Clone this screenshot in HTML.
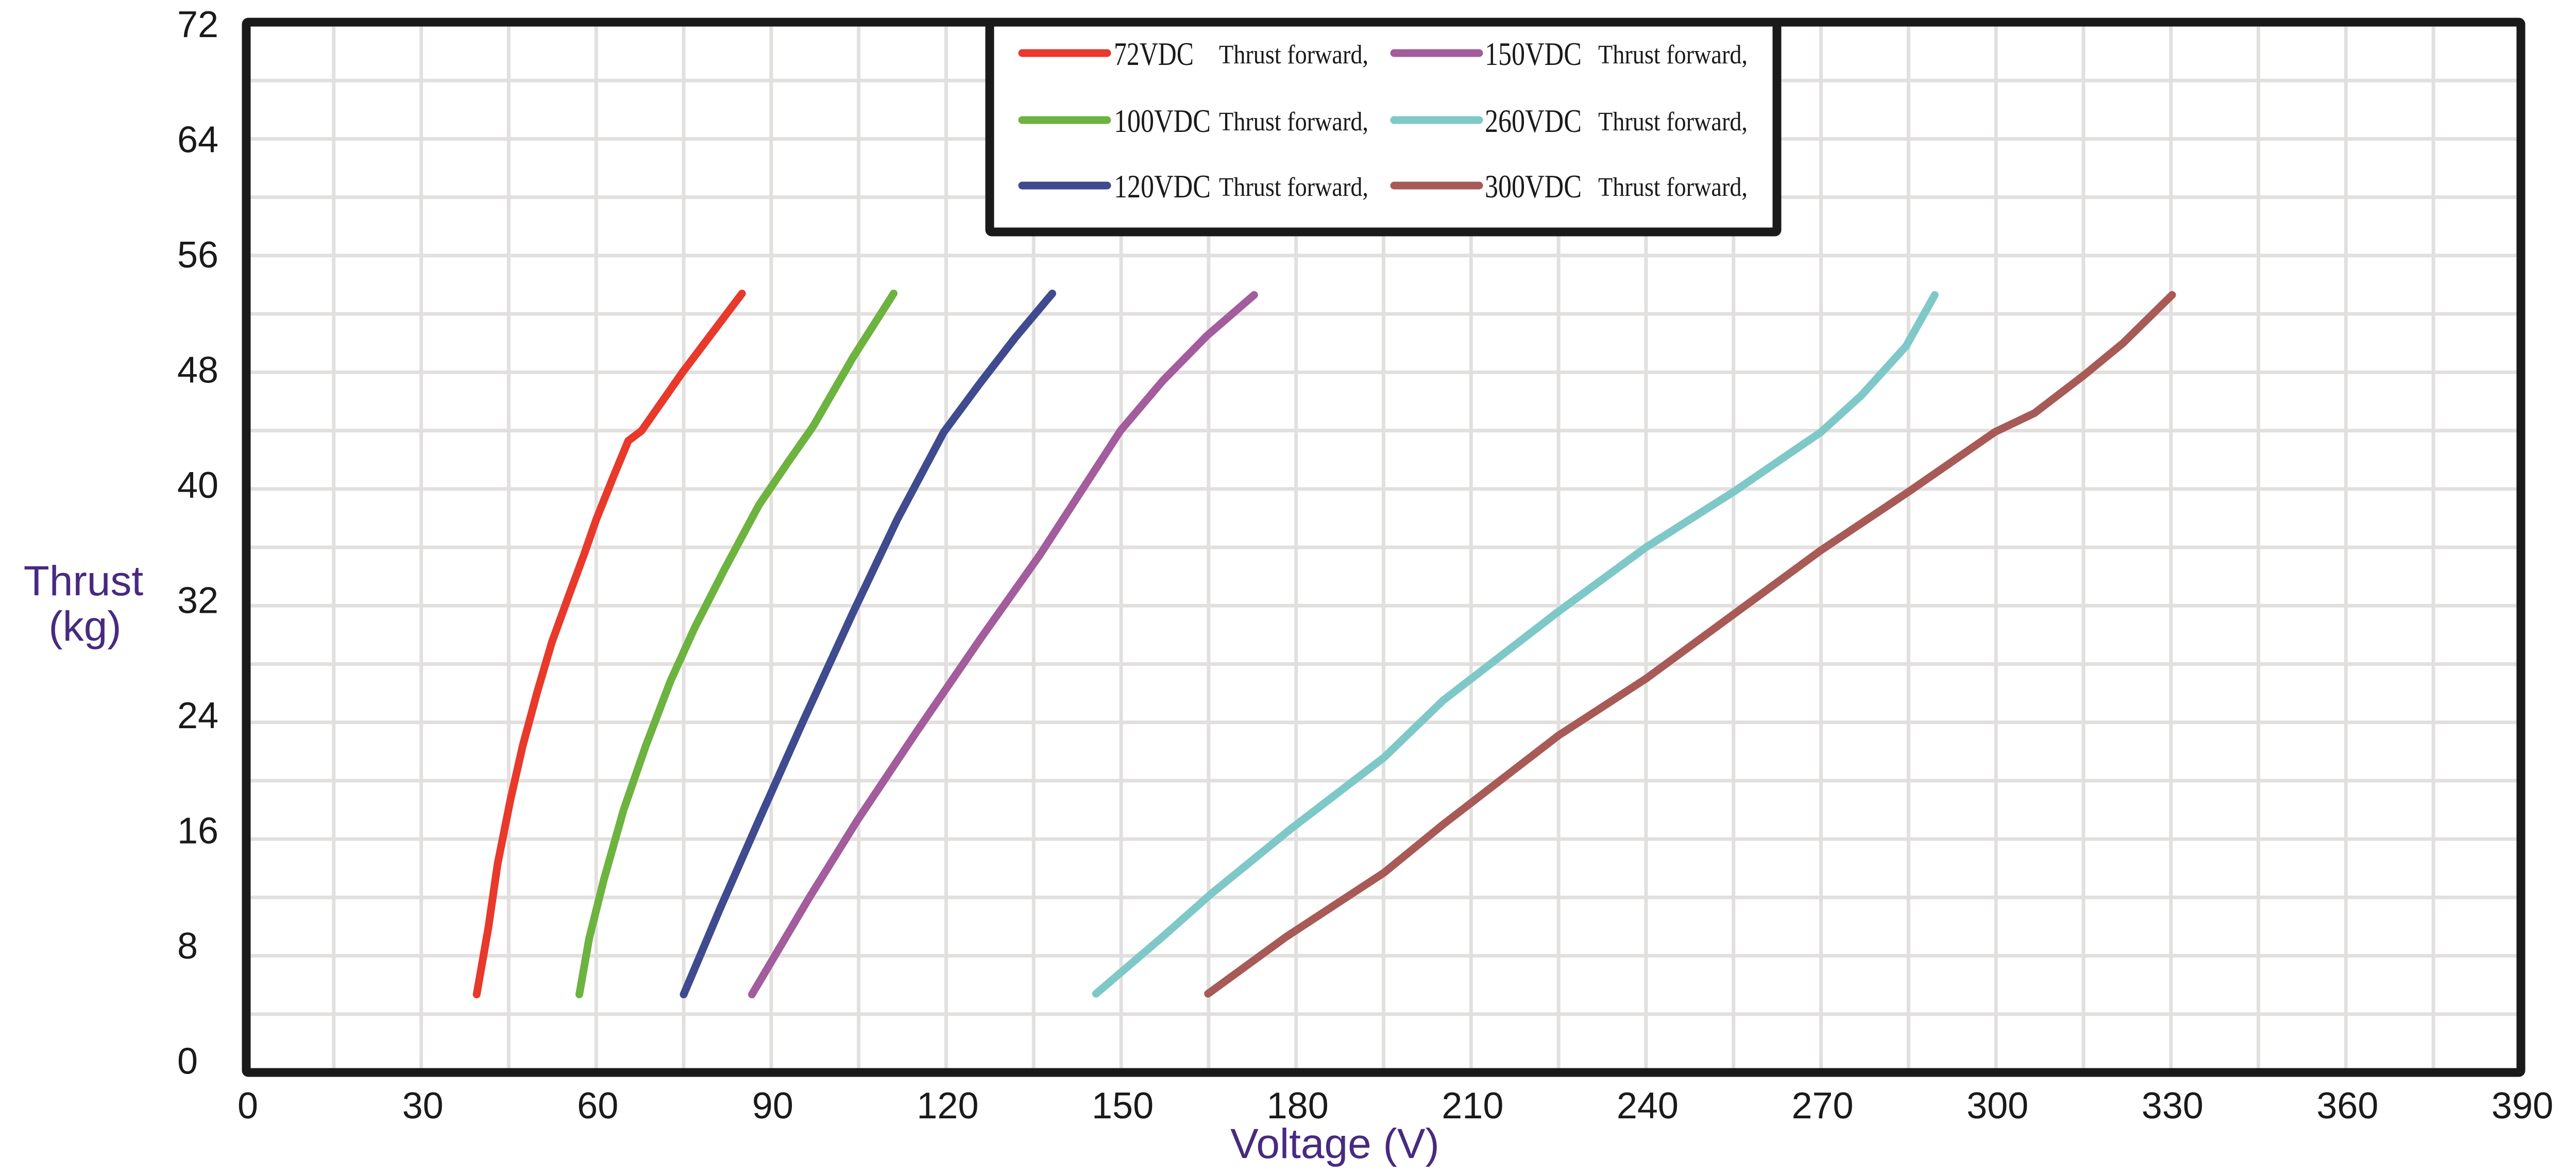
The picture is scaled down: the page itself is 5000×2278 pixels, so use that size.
<!DOCTYPE html>
<html><head><meta charset="utf-8"><style>
html,body{margin:0;padding:0;background:#fff;}
svg{display:block;}
</style></head><body>
<svg id="chart" xmlns="http://www.w3.org/2000/svg" width="5000" height="2278" viewBox="0 0 5000 2278">
<rect x="0" y="0" width="5000" height="2278" fill="#fff"/>
<g id="grid"></g>
<g id="series"></g>
<rect x="478" y="43" width="4415" height="2038" fill="none" stroke="#1a1a1a" stroke-width="17" rx="4"/>
<g id="legend">
<rect x="1921" y="43" width="1528" height="407" fill="#fff" stroke="#1a1a1a" stroke-width="17" rx="4"/>
</g>
<g id="yticks"></g>
<g id="xticks"></g>
<text x="162" y="1155" font-family="Liberation Sans, sans-serif" font-size="82" fill="#472a80" text-anchor="middle">Thrust</text>
<text x="165" y="1243" font-family="Liberation Sans, sans-serif" font-size="82" fill="#472a80" text-anchor="middle">(kg)</text>
<text x="2591" y="2247" font-family="Liberation Sans, sans-serif" font-size="82" fill="#472a80" text-anchor="middle">Voltage (V)</text>
</svg>
<script>
const yTicks = [0, 8, 16, 24, 32, 40, 48, 56, 64, 72];
const xTicks = [0, 30, 60, 90, 120, 150, 180, 210, 240, 270, 300, 330, 360, 390];
const seriesNames = ["72VDC", "100VDC", "120VDC", "150VDC", "260VDC", "300VDC"];
const seriesColors = ["#e8392b", "#6db33f", "#3f4b8e", "#a35c9c", "#7ec8c8", "#a85a56"];
const v72 = [39.5,41.5,43.1,45.3,47.4,49.9,52.4,55.4,57.9,60,63,65.5,67.8,74.8,85];
const t72 = [5.35,9.9,14.3,18.7,22.4,26.1,29.5,32.8,35.5,37.9,40.9,43.3,44,48,53.4];
const v100 = [57.1,58.8,61.3,64.7,68.5,72.7,76.9,82,87.9,93,97.2,104,111];
const t100 = [5.35,9.2,13.2,18,22.4,26.8,30.5,34.5,38.9,41.9,44.3,49,53.4];
const v120 = [75,81.2,87.9,95.5,104,111.6,119.6,125.9,131.9,138.2];
const t120 = [5.35,11.2,17.3,24.1,31.5,37.9,43.9,47.3,50.4,53.4];
const v150 = [86.7,96.4,104.8,115,126,136.1,149.9,157.1,164.7,172.8];
const t150 = [5.35,11.9,17.3,23.4,29.8,35.5,44,47.4,50.5,53.3];
const v260 = [145.7,157.1,165.6,179.1,195.1,205.2,225,240,255,270,276.9,284.6,289.5];
const t260 = [5.4,9.3,12.3,16.7,21.6,25.5,31.6,36,39.8,43.9,46.4,49.8,53.3];
const v300 = [164.9,178.3,195.1,205.2,225,240,255,270,285,299.8,306.6,315.1,321.8,330.2];
const t300 = [5.4,9.3,13.7,17,23.1,27,31.4,35.8,39.8,43.9,45.2,47.8,50,53.3];
const seriesV = [v72, v100, v120, v150, v260, v300];
const seriesT = [t72, t100, t120, t150, t260, t300];

const NS = "http://www.w3.org/2000/svg";
const X0 = 478, X1 = 4893, Y0 = 2081, Y1 = 43, XMAX = 390, YMAX = 72;
function xs(v){ return X0 + (v / XMAX) * (X1 - X0); }
function ys(v){ return Y0 - (v / YMAX) * (Y0 - Y1); }
function mk(tag, attrs){ const e = document.createElementNS(NS, tag); for (const k in attrs) e.setAttribute(k, attrs[k]); return e; }

const grid = document.getElementById("grid");
for (let v = 15; v < XMAX; v += 15) {
  const l = mk("line", {x1: xs(v), x2: xs(v), y1: Y1, y2: Y0, stroke: "#e2e0df", "stroke-width": 7});
  
  
  grid.appendChild(l);
}
for (let v = 4; v < YMAX; v += 4) {
  const l = mk("line", {x1: X0, x2: X1, y1: ys(v), y2: ys(v), stroke: "#e2e0df", "stroke-width": 7});
  
  
  grid.appendChild(l);
}

const yt = document.getElementById("yticks");
yTicks.forEach(v => {
  const t = mk("text", {x: 344, y: 72 + (YMAX - v) * 27.94, "font-family": "Liberation Sans, sans-serif", "font-size": 72, fill: "#1a1a1a"});
  
  
  t.textContent = String(v);
  yt.appendChild(t);
});
const xt = document.getElementById("xticks");
xTicks.forEach(v => {
  const t = mk("text", {x: xs(v) + 3, y: 2170, "font-family": "Liberation Sans, sans-serif", "font-size": 72, fill: "#1a1a1a", "text-anchor": "middle"});
  
  
  t.textContent = String(v);
  xt.appendChild(t);
});

const sg = document.getElementById("series");
seriesV.forEach((vs, i) => {
  const pts = vs.map((v, j) => xs(v).toFixed(1) + "," + ys(seriesT[i][j]).toFixed(1)).join(" ");
  const p = mk("polyline", {points: pts, fill: "none", stroke: seriesColors[i], "stroke-width": 15, "stroke-linejoin": "round", "stroke-linecap": "round"});
  
  
  sg.appendChild(p);
});

const lg = document.getElementById("legend");
const rowY = [103, 233, 360];
const colLine = [1984, 2706];
const colText = [2162, 2882];
const colThrust = [2366, 3102];
seriesNames.forEach((n, i) => {
  const col = i < 3 ? 0 : 1, row = i % 3;
  const g = mk("g", {});
  
  
  const l = mk("line", {x1: colLine[col], x2: colLine[col] + 165, y1: rowY[row], y2: rowY[row], stroke: seriesColors[i], "stroke-width": 15, "stroke-linecap": "round"});
  
  
  g.appendChild(l);
  const t1 = mk("text", {x: colText[col], y: rowY[row] + 23, "font-family": "Liberation Serif, serif", "font-size": 64, fill: "#1a1a1a", textLength: n.length === 5 ? 155 : 188, lengthAdjust: "spacingAndGlyphs"});
  
  
  t1.textContent = n;
  g.appendChild(t1);
  const t2 = mk("text", {x: colThrust[col], y: rowY[row] + 20, "font-family": "Liberation Serif, serif", "font-size": 52, fill: "#1a1a1a", textLength: 290, lengthAdjust: "spacingAndGlyphs"});
  
  
  t2.textContent = "Thrust forward,";
  g.appendChild(t2);
  lg.appendChild(g);
});
</script>
</body></html>
